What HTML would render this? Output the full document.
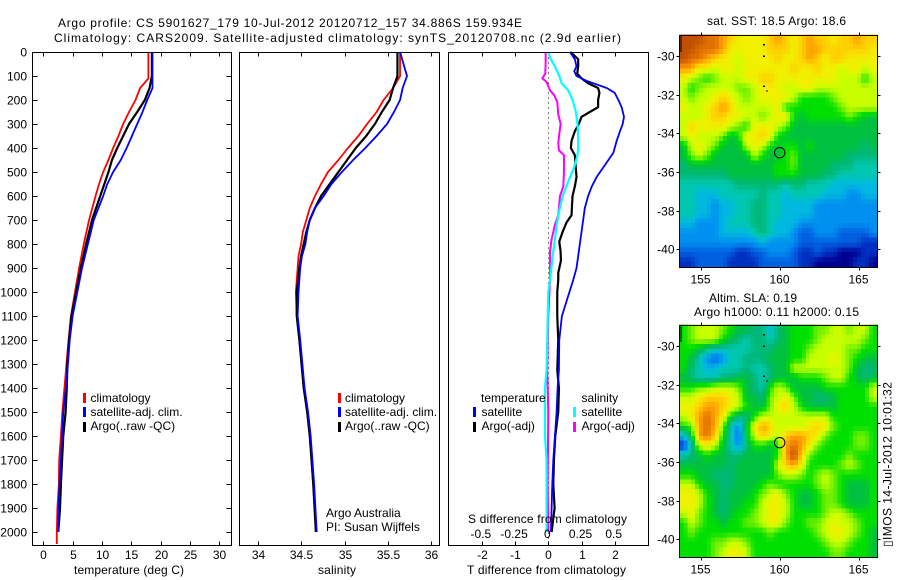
<!DOCTYPE html>
<html>
<head>
<meta charset="utf-8">
<title>Argo profile</title>
<style>
html,body{margin:0;padding:0;background:#fff;}
svg{display:block;}
text{font-family:"Liberation Sans",sans-serif;font-size:12px;fill:#000;}
</style>
</head>
<body>
<svg id="chart" xmlns="http://www.w3.org/2000/svg" width="900" height="580" viewBox="0 0 900 580">
<rect x="0" y="0" width="900" height="580" fill="#fff"/>
<g id="maps"></g>
<g id="plots"></g>
<g id="labels">
<text x="58" y="27" textLength="464">Argo profile: CS 5901627_179 10-Jul-2012 20120712_157 34.886S 159.934E</text>
<text x="54" y="42" textLength="567">Climatology: CARS2009. Satellite-adjusted climatology: synTS_20120708.nc (2.9d earlier)</text>
<text x="74" y="574" textLength="110">temperature (deg C)</text>
<text x="318" y="574" textLength="38">salinity</text>
<text x="467" y="574" textLength="159">T difference from climatology</text>
<text x="468" y="523" textLength="159">S difference from climatology</text>
<text x="326" y="517">Argo Australia</text>
<text x="326" y="531">PI: Susan Wijffels</text>
<rect x="83" y="393" width="3" height="10" fill="#f00"/>
<rect x="83" y="407" width="3" height="10" fill="#00f"/>
<rect x="83" y="422" width="3" height="10" fill="#000"/>
<text x="90.5" y="402">climatology</text>
<text x="90.5" y="416">satellite-adj. clim.</text>
<text x="90.5" y="430">Argo(..raw -QC)</text>
<rect x="338" y="393" width="3" height="10" fill="#f00"/>
<rect x="338" y="407" width="3" height="10" fill="#00f"/>
<rect x="338" y="422" width="3" height="10" fill="#000"/>
<text x="345" y="402">climatology</text>
<text x="345" y="416">satellite-adj. clim.</text>
<text x="345" y="430">Argo(..raw -QC)</text>
<text x="481" y="402">temperature</text>
<text x="581.5" y="402">salinity</text>
<rect x="473" y="407" width="3" height="10" fill="#00f"/>
<rect x="473" y="422" width="3" height="10" fill="#000"/>
<rect x="573" y="407" width="3" height="10" fill="#0ff"/>
<rect x="573" y="422" width="3" height="10" fill="#f0f"/>
<text x="481.5" y="416">satellite</text>
<text x="481.5" y="430">Argo(-adj)</text>
<text x="581.5" y="416">satellite</text>
<text x="581.5" y="430">Argo(-adj)</text>
<text x="707" y="25" textLength="139">sat. SST: 18.5 Argo: 18.6</text>
<text x="709" y="302" textLength="88">Altim. SLA: 0.19</text>
<text x="694" y="316" textLength="165">Argo h1000: 0.11 h2000: 0.15</text>
<text transform="translate(891.5 547) rotate(-90)" x="0" y="0" textLength="165">▯IMOS 14-Jul-2012 10:01:32</text>
</g>
<script>
// ---------- profile data ----------
var tempDepths = [0,100,150,200,250,300,350,400,450,500,550,600,700,800,900,1000,1100,1200,1300,1400,1500,1600,1700,1800,1900,2000];
var tempClimDepths = [0,110,150,200,250,300,350,400,450,500,550,600,700,800,900,1000,1100,1200,1300,1400,1500,1600,1700,1800,1900,2000,2050];
var tempClim = [17.9,17.9,16.5,15.7,14.6,13.6,12.8,11.9,11.1,10.2,9.5,8.9,7.8,6.9,6.1,5.4,4.7,4.3,3.95,3.6,3.25,3.0,2.7,2.65,2.4,2.3,2.3];
var tempSat = [18.6,18.6,18.6,17.7,16.9,16,15.1,14.2,13.2,11.9,10.9,10.2,8.6,7.6,6.6,5.8,5,4.5,4.2,3.85,3.4,3.2,3,2.75,2.6,2.55];
var tempArgo = [18.5,18.5,18.1,17.3,16,14.6,13.6,12.6,11.7,11.1,10.4,9.7,8.3,7.3,6.4,5.6,4.8,4.4,4.1,4,3.8,3.4,3.2,3,2.85,2.55];

var salDepths = [0,100,150,200,250,300,350,400,450,500,550,600,650,700,750,800,850,900,1000,1100,1200,1400,1500,1600,1800,2000];
var salClim = [35.64,35.64,35.56,35.45,35.37,35.26,35.16,35.04,34.93,34.81,34.73,34.66,34.60,34.56,34.52,34.50,34.47,34.46,34.44,34.45,34.48,34.53,34.57,34.60,34.64,34.67];
var salArgo = [35.61,35.61,35.56,35.52,35.43,35.35,35.25,35.13,35.03,34.93,34.83,34.73,34.66,34.60,34.56,34.53,34.50,34.48,34.45,34.45,34.48,34.53,34.57,34.60,34.64,34.67];
var salSat = [35.64,35.72,35.67,35.64,35.57,35.49,35.37,35.24,35.10,34.97,34.85,34.76,34.66,34.60,34.57,34.55,34.51,34.49,34.47,34.46,34.49,34.54,34.58,34.61,34.65,34.68];

var dtSatDepths = [0,30,60,80,100,120,150,170,200,230,270,300,330,370,420,450,480,520,560,600,650,700,750,800,850,900,950,1100,1200,1325,1400,1500,1600,1700,1800,1900,2000];
var dtSat = [0.65,0.8,0.85,0.78,0.85,1.15,1.76,2.0,2.11,2.21,2.28,2.24,2.16,2.06,1.96,1.81,1.66,1.46,1.31,1.2,1.1,1.05,1.0,0.95,0.9,0.85,0.75,0.41,0.33,0.32,0.28,0.25,0.2,0.15,0.12,0.1,0.08];
var dtArgoDepths = [0,30,60,90,110,130,150,170,200,230,250,270,300,330,370,400,430,470,520,560,600,650,680,710,750,790,830,870,920,950,1000,1100,1200,1325,1400,1500,1600,1700,1800,1900,2000];
var dtArgo = [0.67,0.9,0.9,0.87,1.0,1.2,1.5,1.54,1.5,1.5,1.25,1.0,0.92,0.8,0.7,0.68,0.8,0.82,0.85,0.8,0.73,0.71,0.7,0.55,0.43,0.33,0.37,0.38,0.3,0.3,0.27,0.27,0.3,0.27,0.32,0.3,0.21,0.17,0.15,0.19,0.1];
var dsSatDepths = [0,30,60,100,130,160,200,250,300,350,400,430,480,540,600,660,720,780,850,950,1000,1200,1325,1400,1600,1700,2000];
var dsSat = [0,0.018,0.05,0.083,0.1,0.15,0.183,0.208,0.22,0.225,0.225,0.22,0.195,0.15,0.108,0.083,0.063,0.05,0.033,0.013,0,-0.008,-0.013,-0.025,-0.025,-0.013,-0.013];
var dsArgoDepths = [0,50,90,110,125,160,180,210,260,300,340,380,410,430,500,560,600,680,720,780,830,950,1100,1325,1500,1800,2000];
var dsArgo = [-0.02,-0.02,-0.023,-0.045,-0.013,0.013,0.045,0.068,0.075,0.093,0.083,0.075,0.08,0.118,0.118,0.113,0.088,0.075,0.05,0.025,0.013,0.013,0,-0.008,0,-0.005,0];

// ---------- tick labels ----------
var depthTicks = [0,100,200,300,400,500,600,700,800,900,1000,1100,1200,1300,1400,1500,1600,1700,1800,1900,2000];
var tempTicks = [0,5,10,15,20,25,30];
var salTicks = ["34","34.5","35","35.5","36"];
var dtTicks = [-2,-1,0,1,2];
var dsTicks = ["-0.5","-0.25","0","0.25","0.5"];
var lonTicks = [155,160,165];
var latTicks = [-30,-32,-34,-36,-38,-40];

// ---------- map data: colour levels per half-degree cell, north to south ----------
var sstGrid = [
[15,15,15,14,14,13,12,11,11,11,11,12,13,12,11,12,13,12,12,11,12,12,13,12,12],
[15,15,14,14,14,13,11,11,11,11,11,12,12,12,11,12,13,13,12,12,12,12,12,12,11],
[15,14,14,13,12,11,11,10,11,11,11,11,12,11,11,12,13,12,11,12,12,11,11,11,11],
[13,13,11,11,10,11,11,10,11,11,11,11,11,11,12,11,11,12,11,11,10,11,11,10,11],
[11,10,9,8,9,10,10,10,11,11,12,12,11,11,11,11,11,11,11,11,10,10,10,8,10],
[10,8,9,10,10,10,10,9,9,10,11,11,11,10,10,11,11,10,10,10,10,10,10,10,10],
[10,9,10,10,11,12,11,10,9,10,11,11,11,11,10,8,8,8,8,9,10,10,10,10,10],
[11,10,10,11,12,13,12,10,10,10,10,10,11,8,8,8,8,8,8,8,9,10,10,10,10],
[10,10,10,11,12,12,11,11,10,10,9,10,11,11,8,7,8,8,8,8,8,9,8,7,7],
[10,12,11,11,11,11,10,9,8,11,11,11,10,9,7,7,7,7,7,7,7,7,7,7,7],
[10,11,10,10,10,9,7,8,11,11,12,11,8,7,7,7,7,7,7,7,7,7,7,7,7],
[7,10,11,10,9,7,7,7,10,11,10,8,7,8,8,7,8,7,7,7,7,7,7,6,7],
[7,9,10,9,7,7,7,7,7,10,8,7,7,8,9,7,7,7,7,7,7,6,6,6,6],
[6,7,7,7,7,7,7,7,7,7,7,7,8,8,9,7,7,7,7,6,6,6,5,5,5],
[6,6,6,6,6,6,7,7,7,7,7,7,8,8,8,7,7,7,6,6,5,5,5,5,5],
[5,5,5,5,5,5,5,6,6,6,6,6,6,5,6,6,5,5,5,4,4,4,4,4,4],
[5,5,4,4,4,5,5,5,5,5,6,5,5,4,5,5,5,5,4,4,4,3,3,4,4],
[5,5,4,4,3,4,4,5,5,6,6,5,5,4,4,4,4,3,3,3,3,3,3,3,3],
[5,5,4,4,3,4,4,5,5,6,6,5,5,4,4,4,4,3,3,3,3,3,3,3,3],
[4,4,3,3,3,4,5,5,5,6,6,5,4,4,4,3,3,3,3,3,3,3,3,3,3],
[3,3,3,3,3,4,4,4,4,5,6,5,4,4,3,2,2,3,3,3,2,2,2,2,3],
[3,3,3,3,3,3,3,3,3,3,4,3,3,3,3,2,2,2,2,2,2,2,2,1,1],
[2,2,2,2,2,2,2,1,1,2,2,3,3,3,2,1,1,2,1,1,0,0,0,1,1],
[1,1,2,2,2,2,1,1,1,1,2,2,2,2,2,1,1,0,0,0,0,0,1,1,0]
];
var slaGrid = [
[8,9,10,10,10,9,8,7,7,6,6,4,6,7,8,8,8,9,9,10,10,9,10,10,8],
[8,9,10,10,10,8,7,6,5,6,6,5,6,7,8,8,8,9,10,10,10,10,10,9,8],
[8,8,7,6,5,5,5,5,5,6,6,6,7,7,8,8,9,10,10,10,10,9,9,8,8],
[8,7,5,3,2,3,5,5,6,6,6,7,7,7,8,8,10,10,10,11,10,9,8,7,7],
[8,6,5,4,4,5,5,5,6,5,5,6,7,7,10,10,10,10,10,10,10,9,7,6,6],
[7,6,5,5,5,6,6,7,7,6,5,6,7,7,7,8,8,8,9,10,10,8,7,6,7],
[8,8,9,9,10,10,10,9,7,6,5,8,10,9,7,7,7,7,8,8,8,8,8,8,10],
[10,10,11,12,12,12,11,10,7,7,6,9,10,11,9,7,7,6,6,7,8,8,8,8,10],
[11,11,12,13,13,12,11,10,8,7,7,9,11,12,10,8,7,7,7,7,8,8,8,8,8],
[10,11,13,14,13,11,8,6,6,8,10,10,10,10,10,10,10,10,10,8,8,8,8,8,8],
[8,9,13,14,13,9,5,3,7,11,13,12,10,10,10,10,11,12,11,9,8,8,8,8,8],
[4,7,13,14,12,8,5,2,7,10,12,11,10,12,13,13,12,11,9,8,8,8,9,9,8],
[1,5,10,11,10,7,5,3,6,8,8,7,8,13,14,13,11,9,8,8,8,8,9,9,8],
[5,6,7,8,7,7,6,6,7,7,7,7,8,13,15,12,9,8,8,8,8,9,8,8,8],
[7,7,7,7,7,7,6,7,7,7,7,7,10,12,13,11,8,8,8,8,9,10,9,8,8],
[8,8,7,7,6,6,6,7,7,7,7,7,9,10,10,9,8,9,10,9,8,8,8,8,8],
[10,10,8,7,7,6,6,7,7,7,8,9,8,8,8,8,8,9,10,9,8,7,7,7,8],
[11,11,10,8,7,6,7,7,7,8,9,10,11,9,8,7,7,8,9,9,8,7,7,7,8],
[11,11,10,8,7,6,7,7,8,8,10,11,11,10,8,7,7,8,9,9,8,7,7,7,8],
[10,11,9,8,7,6,7,8,8,9,10,11,11,10,8,8,8,8,9,10,10,9,8,8,8],
[8,10,9,8,8,7,8,8,9,9,10,11,11,9,8,8,9,9,10,11,10,10,9,8,8],
[8,9,8,8,8,8,8,8,8,8,8,9,8,8,8,8,8,9,10,11,11,10,9,8,7],
[8,8,8,8,9,9,10,10,9,8,8,8,8,8,8,8,8,8,9,10,10,9,8,8,7],
[8,8,8,8,9,10,11,11,10,8,8,8,8,8,8,8,8,8,8,9,9,8,8,8,7]
];
var levelColors = ["#000090","#0030c0","#0060e0","#0090f0","#00b8e0","#00c8b0","#00b878","#00c040","#00e000","#70f000","#c8ff00","#f0f000","#ffd000","#ffa000","#e07000","#c05000"];
var coastLons = [159,159,159,159.2];
var coastLats = [-29.4,-30,-31.55,-31.8];
var argoLon = [160];
var argoLat = [-35];

// ---------- axis functions ----------
var NS = "http://www.w3.org/2000/svg";
function yDepth(d){ return 52 + 0.24 * d; }
function xTemp(t){ return 43.3 + 5.87 * t; }
function xSal(s){ return 257.7 + 86.8 * (s - 34); }
function xDT(t){ return 548.3 + 33.2 * t; }
function xDS(s){ return 548.3 + 132.8 * s; }
function xLon(lon){ return 700.7 + 15.8 * (lon - 155); }
function ySstLat(lat){ return 56 + 19.33 * (-30 - lat); }
function ySlaLat(lat){ return 346 + 19.33 * (-30 - lat); }

function mk(tag, parent, props){
  var e = document.createElementNS(NS, tag);
  for (var k in props) e.setAttribute(k, props[k]);
  parent.appendChild(e);
  return e;
}
function drawBox(parent, l, t, r, b){
  var box = mk("rect", parent, {x:l, y:t, width:r-l, height:b-t, fill:"none", stroke:"#000", "stroke-width":1, "shape-rendering":"crispEdges"});
  
  
}
function drawTick(parent, x1, y1, x2, y2){
  var t = mk("line", parent, {x1:x1, y1:y1, x2:x2, y2:y2, stroke:"#000", "stroke-width":1, "shape-rendering":"crispEdges"});
  
  
}
function drawLabel(parent, x, y, anchor, str){
  var t = mk("text", parent, {x:x, y:y, "text-anchor":anchor});
  t.textContent = str;
  
  
}
function drawSeries(parent, xs, ds, xFn, color, width){
  var pts = [];
  for (var i = 0; i < ds.length; i++) pts.push(xFn(xs[i]).toFixed(2) + "," + yDepth(ds[i]).toFixed(2));
  return mk("polyline", parent, {points:pts.join(" "), fill:"none", stroke:color, "stroke-width":width, "stroke-linejoin":"round"});
}

var plots = document.getElementById("plots");
var maps = document.getElementById("maps");
var PT = 52.5, PB = 545.5;

// ---------- temperature panel ----------
var i, k, s;
var g1 = mk("g", plots, {});


var s1 = drawSeries(g1, tempClim, tempClimDepths, xTemp, "#f00", 1.8);


var s2 = drawSeries(g1, tempArgo, tempDepths, xTemp, "#000", 2.2);


var s3 = drawSeries(g1, tempSat, tempDepths, xTemp, "#00f", 1.8);


drawBox(g1, 32.5, PT, 231.5, PB);
for (i = 0; i < depthTicks.length; i++){
  var dy = Math.round(yDepth(depthTicks[i])) + 0.5;
  drawTick(g1, 32.5, dy, 37.5, dy);
  drawTick(g1, 226.5, dy, 231.5, dy);
  drawLabel(g1, 27, dy + 4, "end", String(depthTicks[i]));
}
for (i = 0; i < tempTicks.length; i++){
  var tx = Math.round(xTemp(tempTicks[i])) + 0.5;
  drawTick(g1, tx, PT, tx, PT + 4);
  drawTick(g1, tx, PB - 4, tx, PB);
  drawLabel(g1, tx, 559, "middle", String(tempTicks[i]));
}

// ---------- salinity panel ----------
var g2 = mk("g", plots, {});


var s4 = drawSeries(g2, salClim, salDepths, xSal, "#f00", 1.8);


var s5 = drawSeries(g2, salArgo, salDepths, xSal, "#000", 2.2);


var s6 = drawSeries(g2, salSat, salDepths, xSal, "#00f", 1.8);


drawBox(g2, 239.5, PT, 439.5, PB);
for (i = 0; i < salTicks.length; i++){
  var sx = Math.round(xSal(parseFloat(salTicks[i]))) + 0.5;
  drawTick(g2, sx, PT, sx, PT + 4);
  drawTick(g2, sx, PB - 4, sx, PB);
  drawLabel(g2, sx, 559, "middle", salTicks[i]);
}

// ---------- difference panel ----------
var g3 = mk("g", plots, {});


var zero = mk("line", g3, {x1:xDT(0), y1:PT, x2:xDT(0), y2:PB, stroke:"#000", "stroke-width":1, "stroke-dasharray":"1 4", "shape-rendering":"crispEdges"});


var s7 = drawSeries(g3, dtArgo, dtArgoDepths, xDT, "#000", 2.2);


var s8 = drawSeries(g3, dtSat, dtSatDepths, xDT, "#00f", 1.8);


var s9 = drawSeries(g3, dsArgo, dsArgoDepths, xDS, "#f0f", 2);


var s10 = drawSeries(g3, dsSat, dsSatDepths, xDS, "#0ff", 2.2);


drawBox(g3, 448.5, PT, 648.5, PB);
for (i = 0; i < dtTicks.length; i++){
  var dx = Math.round(xDT(dtTicks[i])) + 0.5;
  if (dtTicks[i] !== 0){
    drawTick(g3, dx, PT, dx, PT + 4);
  }
  drawTick(g3, dx, PB - 4, dx, PB);
  drawLabel(g3, dx, 559, "middle", String(dtTicks[i]));
}
for (i = 0; i < dsTicks.length; i++){
  drawLabel(g3, xDS(parseFloat(dsTicks[i])) - 1, 538, "middle", dsTicks[i]);
}

// ---------- maps ----------
function hexPart(hex, a){ return parseInt(hex.substr(1 + a * 2, 2), 16); }
function levelColor(v){
  var lo = Math.max(0, Math.min(levelColors.length - 2, Math.floor(v)));
  var f = Math.max(0, Math.min(1, v - lo));
  var out = [];
  for (var a = 0; a < 3; a++){
    out.push(Math.round(hexPart(levelColors[lo], a) * (1 - f) + hexPart(levelColors[lo + 1], a) * f));
  }
  return "rgb(" + out.join(",") + ")";
}
// Level at a fractional grid position: each grid value sits at its cell centre.
function gridLevel(grid, rowPos, colPos){
  var nr = grid.length, nc = grid[0].length;
  var rp = Math.max(0, Math.min(nr - 1, rowPos)), cp = Math.max(0, Math.min(nc - 1, colPos));
  var r0 = Math.floor(rp), c0 = Math.floor(cp);
  var r1 = Math.min(nr - 1, r0 + 1), c1 = Math.min(nc - 1, c0 + 1);
  var fr = rp - r0, fc = cp - c0;
  return grid[r0][c0] * (1 - fr) * (1 - fc) + grid[r0][c1] * (1 - fr) * fc + grid[r1][c0] * fr * (1 - fc) + grid[r1][c1] * fr * fc;
}
function drawMap(grid, yLat, latTop){
  var g = mk("g", maps, {});
  var lonW = 153.65;
  var cellDeg = 0.25;
  var perCell = 2;
  var nRows = grid.length * perCell, nCols = grid[0].length * perCell;
  for (var r = 0; r < nRows; r++){
    for (var c = 0; c < nCols; c++){
      var x0 = xLon(lonW + c * cellDeg), x1 = Math.min(xLon(lonW + (c + 1) * cellDeg), xLon(166.18));
      var y0 = yLat(latTop - r * cellDeg), y1 = yLat(latTop - (r + 1) * cellDeg);
      var level = gridLevel(grid, (r + 0.5) / perCell - 0.5, (c + 0.5) / perCell - 0.5);
      var cell = mk("rect", g, {x:x0.toFixed(2), y:y0.toFixed(2), width:(x1 - x0 + 0.4).toFixed(2), height:(y1 - y0 + 0.4).toFixed(2), fill:levelColor(level), "shape-rendering":"crispEdges"});
      
      
    }
  }
  var L = Math.round(xLon(lonW)) + 0.5, R = Math.round(xLon(166.18)) + 0.5;
  var T = Math.round(yLat(latTop)) + 0.5, B = Math.round(yLat(latTop - 11.99)) + 0.5;
  for (var q = 0; q < coastLons.length; q++){
    var sp = mk("rect", g, {x:xLon(coastLons[q]) - 1, y:yLat(coastLats[q]) - 0.5, width:2, height:1.4, fill:"#000", "shape-rendering":"crispEdges"});
    
    
  }
  var coast = mk("line", g, {x1:L + 1.5, y1:T, x2:L + 1.5, y2:yLat(-29.8), stroke:"#000", "stroke-width":1, "shape-rendering":"crispEdges"});
  
  
  drawBox(g, L, T, R, B);
  for (var a = 0; a < lonTicks.length; a++){
    var lx = Math.round(xLon(lonTicks[a])) + 0.5;
    drawTick(g, lx, T - 3, lx, T);
    drawTick(g, lx, B, lx, B + 3);
    drawLabel(g, lx - 1, B + 16, "middle", String(lonTicks[a]));
  }
  for (var b = 0; b < latTicks.length; b++){
    var ly = Math.round(yLat(latTicks[b])) + 0.5;
    drawTick(g, L - 3, ly, L, ly);
    drawTick(g, R, ly, R + 3, ly);
    drawLabel(g, L - 5, ly + 4, "end", String(latTicks[b]));
  }
  var circ = mk("circle", g, {cx:xLon(argoLon[0]), cy:yLat(argoLat[0]), r:5.2, fill:"none", stroke:"#000", "stroke-width":1});
  
  
  return g;
}
var mapSst = drawMap(sstGrid, ySstLat, -28.9);


var mapSla = drawMap(slaGrid, ySlaLat, -28.9);


</script>
</svg>
</body>
</html>
